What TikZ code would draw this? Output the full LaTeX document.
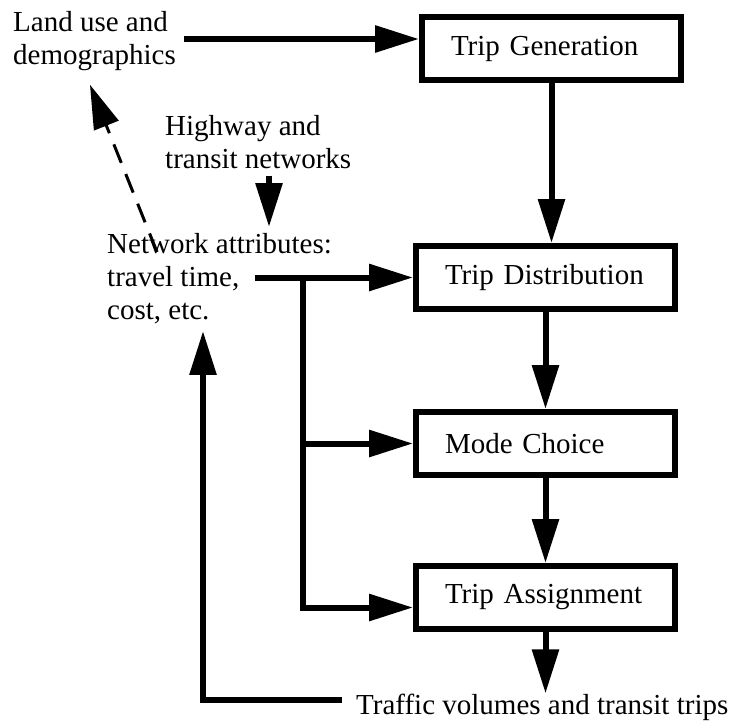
\documentclass[tikz,border=0pt]{standalone}
\usepackage{fontspec}
\setmainfont{Liberation Serif}
\usepackage{tikz}
\usetikzlibrary{arrows.meta,positioning,calc}

\begin{document}
\begin{tikzpicture}[
  x=1pt,y=-1pt,
  font=\fontsize{29}{33}\selectfont,
  stage/.style={draw,line width=6pt,minimum width=259pt,minimum height=63pt,
                text width=201pt,inner xsep=29pt,align=left},
  lbl/.style={inner sep=0pt,align=left,anchor=north west},
  arr/.style={-{Triangle[length=44pt,width=26pt]},line width=6pt},
  dasharr/.style={arr,line width=3pt,dash pattern=on 20pt off 12pt}
]
\useasboundingbox (0,0) rectangle (733,721);
% model stages
\node[stage] (gen) at (551.5,48.5) {Trip Generation};
\node[stage,below=160pt of gen,xshift=-6pt] (dist) {Trip Distribution};
\node[stage,below=97pt of dist]   (mode)   {Mode Choice};
\node[stage,below=85pt of mode]   (assign) {Trip Assignment};
% inputs and outputs
\node[lbl] (land) at (13,11)  {Land use and\\demographics};
\node[lbl] (hwy)  at (165,115) {Highway and\\transit networks};
\node[lbl] (net)  at (107,233) {Network attributes:\\travel time,\\cost, etc.};
\node[inner sep=0pt,anchor=base west] (traffic) at (356,714) {Traffic volumes and transit trips};
\coordinate (genin) at ([yshift=9.5pt]gen.west);
\coordinate (bustop) at ($(net.west |- dist.west)+(196pt,0)$);
\draw[arr] (land.east |- genin) ++(8pt,0) -- (genin);
\draw[arr] (gen.south) -- (gen.south |- dist.north);
\draw[arr] (dist) -- (mode);
\draw[arr] (mode) -- (assign);
\draw[arr] (assign.south) -- (assign.south |- traffic.north);
\draw[arr] ([xshift=104pt,yshift=-7pt]hwy.south west) -- ([xshift=162pt,yshift=6pt]net.north west);
\draw[arr] (net.west |- dist.west) ++(148pt,0) -- (dist.west);
\draw[arr] (bustop) |- ([yshift=-10pt]assign.west);
\draw[arr] (bustop |- mode.west) -- (mode.west);
\draw[arr] ([xshift=-14pt,yshift=7pt]traffic.west) -| ([xshift=96pt,yshift=-7pt]net.south west);
\draw[dasharr] ([xshift=50pt,yshift=-19pt]net.north west) -- ([xshift=77pt,yshift=-14pt]land.south west);
\end{tikzpicture}
\end{document}
